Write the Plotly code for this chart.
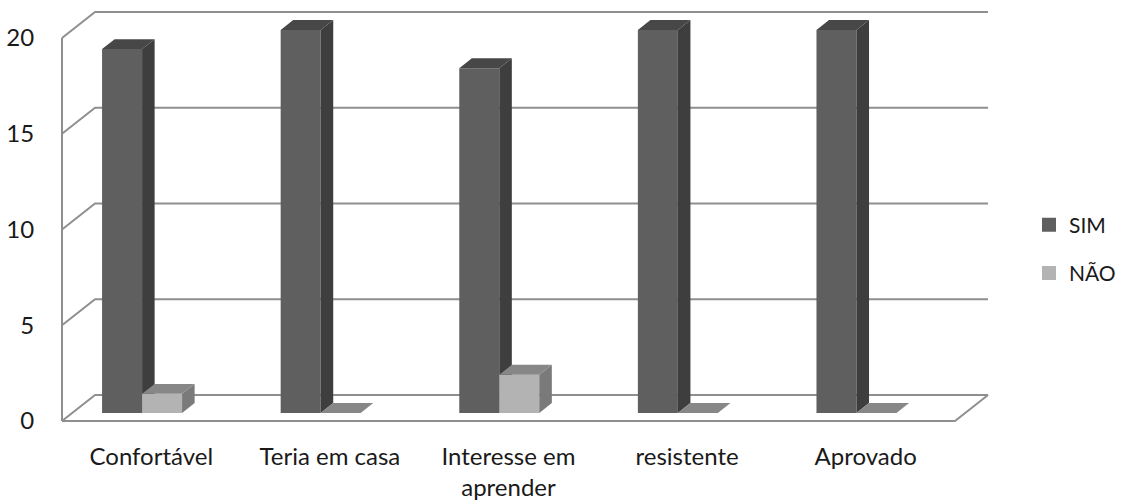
import plotly.graph_objects as go

# Survey answers per item
categories = ["Confortável", "Teria em casa", "Interesse em<br>aprender", "resistente", "Aprovado"]
sim_values = [19, 20, 18, 20, 20]
nao_values = [1, 0, 2, 0, 0]
y_ticks = [0, 5, 10, 15, 20]
series_names = ["SIM", "NÃO"]

# Face colours (front, side, top) for each series
face_colors = {
    "SIM": ("#5f5f5f", "#3e3e3e", "#474747"),
    "NÃO": ("#b3b3b3", "#7a7a7a", "#878787"),
}
grid_color = "#8f8f8f"
text_color = "#1a1a1a"
font_family = "Lato"

# Oblique projection of the box: depth 0 = front plane, depth 1 = back wall
DEPTH_DX = 0.185   # x shift (category units) for full depth
DEPTH_DY = 1.36    # y shift (value units) for full depth
BAR_D0, BAR_D1 = 0.31, 0.69
BAR_W = 0.224
GROUP_LEFT = -0.333
n = len(categories)
y_max = max(y_ticks)


def proj(x, v, d):
    return x + DEPTH_DX * d, v + DEPTH_DY * d


def poly(points):
    xs, ys = [], []
    for x, v, d in points:
        px, py = proj(x, v, d)
        xs.append(px)
        ys.append(py)
    return xs, ys


fig = go.Figure()


def add_line(points):
    xs, ys = poly(points)
    fig.add_trace(go.Scatter(x=xs, y=ys, mode="lines",
                             line=dict(color=grid_color, width=2),
                             hoverinfo="skip", showlegend=False))


# Walls, floor and gridlines
left, right = -0.5, n - 0.5
for v in y_ticks:
    add_line([(left, v, 0), (left, v, 1), (right, v, 1)])
add_line([(left, 0, 0), (left, y_max, 0)])
add_line([(left, 0, 0), (right, 0, 0), (right, 0, 1)])


def add_face(points, color):
    xs, ys = poly(points)
    fig.add_trace(go.Scatter(x=xs, y=ys, mode="lines", fill="toself",
                             fillcolor=color, line=dict(width=0, color=color),
                             hoverinfo="skip", showlegend=False))


# 3D bars: every SIM bar first, then NÃO bars in front of their side faces
for s, (name, values) in enumerate(zip(series_names, [sim_values, nao_values])):
    front_c, side_c, top_c = face_colors[name]
    for i, v in enumerate(values):
        xl = i + GROUP_LEFT + s * BAR_W
        xr = xl + BAR_W
        if v > 0:
            add_face([(xl, 0, BAR_D0), (xr, 0, BAR_D0), (xr, v, BAR_D0), (xl, v, BAR_D0)], front_c)
            add_face([(xr, 0, BAR_D0), (xr, 0, BAR_D1), (xr, v, BAR_D1), (xr, v, BAR_D0)], side_c)
        add_face([(xl, v, BAR_D0), (xr, v, BAR_D0), (xr, v, BAR_D1), (xl, v, BAR_D1)], top_c)

# Legend entries
for s, name in enumerate(series_names):
    fig.add_trace(go.Scatter(x=[None], y=[None], mode="markers", name=name,
                             legendgroup=name,
                             marker=dict(symbol="square", size=14, color=face_colors[name][0])))

PX_X = 178.6   # pixels per category
PX_Y = 19.15   # pixels per value unit
L, T, B = 44, 8, 73
W = 950
H = 502 - T - B
x0 = left - (62 - L) / PX_X
x1 = x0 + W / PX_X
y0 = -(502 - B - 421) / PX_Y
y1 = y0 + H / PX_Y

fig.update_layout(
    width=1121, height=502,
    margin=dict(l=L, r=1121 - L - W, t=T, b=B, pad=0, autoexpand=False),
    paper_bgcolor="white", plot_bgcolor="white",
    font=dict(family=font_family, color=text_color, size=24),
    xaxis=dict(range=[x0, x1], tickvals=list(range(n)), ticktext=categories,
               showgrid=False, zeroline=False, showline=False, automargin=False,
               ticks="outside", ticklen=6, tickcolor="rgba(0,0,0,0)",
               tickfont=dict(size=24, color=text_color, family=font_family)),
    yaxis=dict(range=[y0, y1], tickvals=y_ticks,
               showgrid=False, zeroline=False, showline=False, automargin=False,
               ticks="outside", ticklen=4, tickcolor="rgba(0,0,0,0)",
               tickfont=dict(size=24, color=text_color, family=font_family)),
    legend=dict(xref="container", yref="container",
                x=1029 / 1121, xanchor="left", y=1 - 249 / 502, yanchor="middle",
                font=dict(size=21, color=text_color, family=font_family),
                tracegroupgap=18, bgcolor="rgba(0,0,0,0)"),
    showlegend=True,
)

fig.write_html("out.html")
